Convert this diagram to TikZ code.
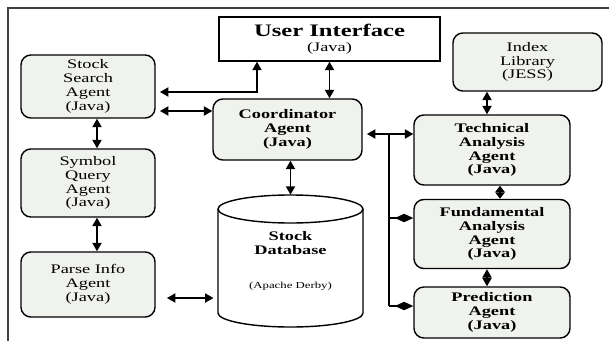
\documentclass[tikz,border=0pt]{standalone}
\usepackage{fontspec}
\setmainfont{Liberation Serif}[FakeStretch=1.4]
\usetikzlibrary{arrows.meta}
\definecolor{boxfill}{RGB}{240,242,238}
\begin{document}
\begin{tikzpicture}[x=0.025cm,y=-0.025cm,
  agent/.style={draw,line width=1pt,rounded corners=7pt,fill=boxfill,align=center,inner sep=1pt,
    font=\fontsize{9.3}{9.8}\selectfont},
  boldagent/.style={agent,font=\fontsize{9.3}{9.8}\selectfont\bfseries},
  link/.style={line width=1.1pt,{Triangle[length=6pt,width=6.5pt]}-{Triangle[length=6pt,width=6.5pt]}},
  shortlink/.style={line width=1.1pt,{Triangle[length=4.5pt,width=6.5pt]}-{Triangle[length=4.5pt,width=6.5pt]}},
  tap/.style={line width=1.1pt,-{Diamond[length=13pt,width=6pt]}}]
\useasboundingbox (0,0) rectangle (609,341);
\draw[line width=1pt,black!75] (609,8) -- (8,8) -- (8,341);

% agents
\node[draw,line width=1pt,minimum width=5.525cm,minimum height=1.1cm,align=center,inner sep=1pt]
  (ui) at (329.5,39) {{\fontsize{12.5}{13}\selectfont\bfseries User Interface}\\[-1pt]{\fontsize{9.3}{10}\selectfont (Java)}};
\node[agent,minimum width=3.35cm,minimum height=1.575cm] (search) at (88,86.5) {Stock\\Search\\Agent\\(Java)};
\node[boldagent,minimum width=3.725cm,minimum height=1.525cm] (coord) at (287.5,129.5) {Coordinator\\Agent\\(Java)};
\node[agent,minimum width=3.725cm,minimum height=1.45cm] (index) at (527.5,62) {Index\\Library\\(JESS)};
\node[boldagent,minimum width=3.9cm,minimum height=1.75cm] (tech) at (492,150) {Technical\\Analysis\\Agent\\(Java)};
\node[agent,minimum width=3.35cm,minimum height=1.7cm] (symbol) at (88,183) {Symbol\\Query\\Agent\\(Java)};
\node[agent,minimum width=3.35cm,minimum height=1.625cm] (parse) at (88,284.5) {Parse Info\\Agent\\(Java)};
\node[boldagent,minimum width=3.9cm,minimum height=1.725cm] (fund) at (492,234) {Fundamental\\Analysis\\Agent\\(Java)};
\node[boldagent,minimum width=3.9cm,minimum height=1.275cm] (pred) at (492,312.5) {Prediction\\Agent\\(Java)};

% database
\draw[line width=1pt,fill=white] (218,209) -- (218,313)
  arc[start angle=180,end angle=360,x radius=1.8125cm,y radius=0.35cm]
  -- (363,209) arc[start angle=0,end angle=180,x radius=1.8125cm,y radius=0.35cm];
\draw[line width=1pt] (218,209) arc[start angle=180,end angle=360,x radius=1.8125cm,y radius=0.35cm];
\node[minimum width=3.625cm,minimum height=3.3cm,align=center,inner sep=0pt,font=\fontsize{9.3}{9.8}\selectfont\bfseries]
  (db) at (290.5,261) {Stock\\Database\\[14pt]{\fontsize{6.5}{7}\selectfont\mdseries (Apache Derby)}};

% connectors
\coordinate (uiturn) at (257,92);
\coordinate (sc) at (0,111);
\coordinate (leftcol) at (97,0);
\coordinate (rightcol) at (487,0);
\coordinate (techfund) at (500,0);
\coordinate (pd) at (0,298);
\coordinate (bus) at (389,134);
\coordinate (fundtap) at (389,218);
\coordinate (predtap) at (389,306);
\draw[link,shorten <=3pt] (uiturn -| search.east) -- (uiturn) -- (uiturn |- ui.south);
\draw[link,shorten <=3pt] (sc -| search.east) -- (sc -| coord.west);
\draw[link] (ui.south) -- (ui.south |- coord.north);
\draw[link] (leftcol |- search.south) -- (leftcol |- symbol.north);
\draw[link] (leftcol |- symbol.south) -- (leftcol |- parse.north);
\draw[link] (coord.south -| db.north) -- (db.north);
\draw[link,shorten <=8pt,shorten >=3pt] (pd -| parse.east) -- (pd -| db.west);
\draw[link,shorten <=3pt] (bus -| coord.east) -- (bus -| tech.west);
\draw[line width=1.1pt] (bus) -- (predtap);
\draw[tap] (fundtap) -- (fundtap -| fund.west);
\draw[tap] (predtap) -- (predtap -| pred.west);
\draw[link] (rightcol |- index.south) -- (rightcol |- tech.north);
\draw[shortlink] (techfund |- tech.south) -- (techfund |- fund.north);
\draw[link] (rightcol |- fund.south) -- (rightcol |- pred.north);
\end{tikzpicture}
\end{document}
